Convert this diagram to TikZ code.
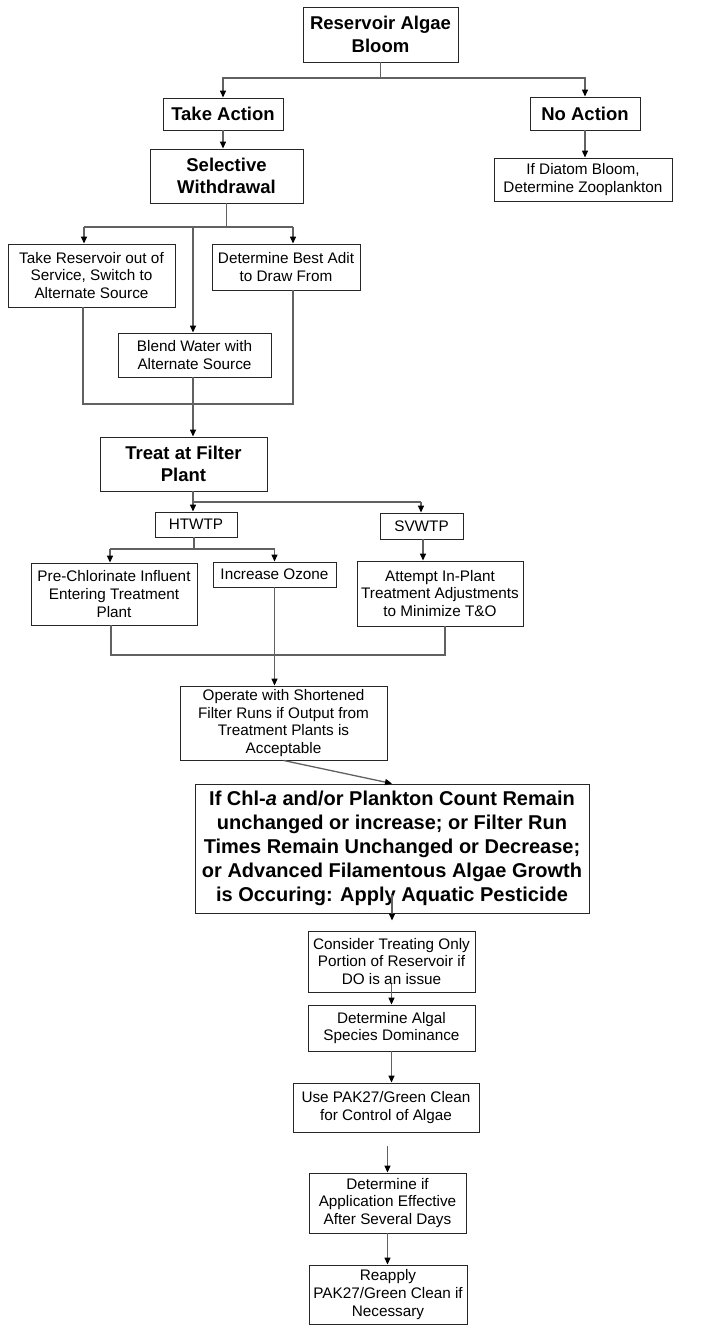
\documentclass[tikz,border=0pt]{standalone}
\usepackage{fontspec}
\setmainfont{Liberation Sans}
\usetikzlibrary{arrows.meta}
\begin{document}
\begin{tikzpicture}[x=1pt,y=-1pt,
  box/.style={draw=black!85, line width=0.9pt, rectangle, inner sep=0pt, align=center,
    font=\fontsize{15.3}{17.8}\selectfont},
  bigbox/.style={box, font=\fontsize{18.5}{22.5}\selectfont\bfseries},
  hugebox/.style={box, font=\fontsize{20}{24}\selectfont\bfseries},
  conn/.style={draw=black!62, line width=1.3pt},
  arr/.style={conn, -{Triangle[length=7pt,width=6pt,color=black]}},
]
\fill[white] (0,0) rectangle (708,1325);
\useasboundingbox (0,0) rectangle (708,1325);

% nodes
\node[bigbox, minimum width=155pt, minimum height=55pt] (res) at (380.5,34.5) {Reservoir Algae\\Bloom};
\node[bigbox, minimum width=120pt, minimum height=32pt] (take) at (223,114) {Take Action};
\node[bigbox, minimum width=110pt, minimum height=33pt] (noact) at (585,113.5) {No Action};
\node[bigbox, minimum width=153pt, minimum height=54pt] (sel) at (226.5,176) {Selective\\Withdrawal};
\node[box, minimum width=178pt, minimum height=43pt] (diatom) at (583,179.5) {If Diatom Bloom,\\Determine Zooplankton};
\node[box, minimum width=167pt, minimum height=63pt] (takeres) at (91.5,275.5) {Take Reservoir out of\\Service, Switch to\\Alternate Source};
\node[box, minimum width=148pt, minimum height=46pt] (adit) at (286,267) {Determine Best Adit\\to Draw From};
\node[box, minimum width=153pt, minimum height=44pt] (blend) at (194.5,355) {Blend Water with\\Alternate Source};
\node[bigbox, minimum width=167pt, minimum height=54pt] (treat) at (183.5,464) {Treat at Filter\\Plant};
\node[box, minimum width=82pt, minimum height=25pt] (htwtp) at (196,524.5) {HTWTP};
\node[box, minimum width=83pt, minimum height=26pt] (svwtp) at (421.5,526) {SVWTP};
\node[box, minimum width=166pt, minimum height=62pt] (prechl) at (114,594) {Pre-Chlorinate Influent\\Entering Treatment\\Plant};
\node[box, minimum width=123pt, minimum height=25pt] (ozone) at (274.5,574.5) {Increase Ozone};
\node[box, minimum width=166pt, minimum height=65pt] (attempt) at (440,593.5) {Attempt In-Plant\\Treatment Adjustments\\to Minimize T\&O};
\node[box, minimum width=207pt, minimum height=74pt] (operate) at (283.5,723) {Operate with Shortened\\Filter Runs if Output from\\Treatment Plants is\\Acceptable};
\node[hugebox, minimum width=394pt, minimum height=129pt] (big) at (392,848.5) {If Chl-\textit{a} and/or Plankton Count Remain\\unchanged or increase; or Filter Run\\Times Remain Unchanged or Decrease;\\or Advanced Filamentous Algae Growth\\is Occuring: Apply Aquatic Pesticide};
\node[box, minimum width=167pt, minimum height=61pt] (consider) at (391.5,961.5) {Consider Treating Only\\Portion of Reservoir if\\DO is an issue};
\node[box, minimum width=167pt, minimum height=46pt] (algal) at (391.5,1028) {Determine Algal\\Species Dominance};
\node[box, minimum width=186pt, minimum height=49pt] (use) at (386,1107.5) {Use PAK27/Green Clean\\for Control of Algae};
\node[box, minimum width=157pt, minimum height=60pt] (detif) at (387.5,1203) {Determine if\\Application Effective\\After Several Days};
\node[box, minimum width=158pt, minimum height=59pt] (reapply) at (388,1294.5) {Reapply\\PAK27/Green Clean if\\Necessary};

% top split
\coordinate (j1) at (380.5,78);
\draw[conn] (res.south) -- (j1);
\draw[arr] (j1) -| (take.north);
\draw[arr] (j1) -| (noact.north);
\draw[arr] (take.south) -- (take.south |- sel.north);
\draw[arr] (noact.south) -- (noact.south |- diatom.north);

% selective withdrawal split
\coordinate (j2) at (226.5,227);
\coordinate (j2l) at (84,227);
\coordinate (j2m) at (193,227);
\coordinate (j2r) at (293,227);
\draw[conn] (sel.south) -- (j2);
\draw[conn] (j2l) -- (j2r);
\draw[arr] (j2l) -- (j2l |- takeres.north);
\draw[arr] (j2r) -- (j2r |- adit.north);
\draw[arr] (j2m) -- (j2m |- blend.north);

% merge 1
\coordinate (m1l) at (83,404);
\coordinate (m1r) at (293,404);
\draw[conn] (m1l |- takeres.south) -- (m1l) -- (m1r) -- (m1r |- adit.south);
\draw[arr] (j2m |- blend.south) -- (j2m |- treat.north);

% treat split
\coordinate (j3) at (193,502);
\coordinate (j3r) at (421,502);
\draw[conn] (j3 |- treat.south) -- (j3) -- (j3r);
\draw[arr] (j3) -- (j3 |- htwtp.north);
\draw[arr] (j3r) -- (j3r |- svwtp.north);

% htwtp split
\coordinate (j4) at (194,549);
\coordinate (j4l) at (110,549);
\coordinate (j4r) at (274.5,549);
\draw[conn] (j4 |- htwtp.south) -- (j4);
\draw[conn] (j4l) -- (j4r);
\draw[arr] (j4l) -- (j4l |- prechl.north);
\draw[arr] (j4r) -- (j4r |- ozone.north);
\coordinate (s1) at (423,0);
\draw[arr] (s1 |- svwtp.south) -- (s1 |- attempt.north);

% merge 2
\coordinate (m2l) at (111,655);
\coordinate (m2r) at (445,655);
\draw[conn] (m2l |- prechl.south) -- (m2l) -- (m2r) -- (m2r |- attempt.south);
\draw[arr] (ozone.south) -- (ozone.south |- operate.north);

% lower chain
\draw[arr] (operate.south) -- (big.north);
\draw[arr, shorten >=10pt] ([yshift=18pt]big.south) -- (big.south |- consider.north);
\draw[arr] ([yshift=8pt]consider.south) -- (consider.south |- algal.north);
\draw[arr] (algal.south) -- (algal.south |- use.north);
\draw[arr, shorten <=14pt] (use.south -| detif.north) -- (detif.north);
\draw[arr] (detif.south) -- (detif.south |- reapply.north);
\end{tikzpicture}
\end{document}
